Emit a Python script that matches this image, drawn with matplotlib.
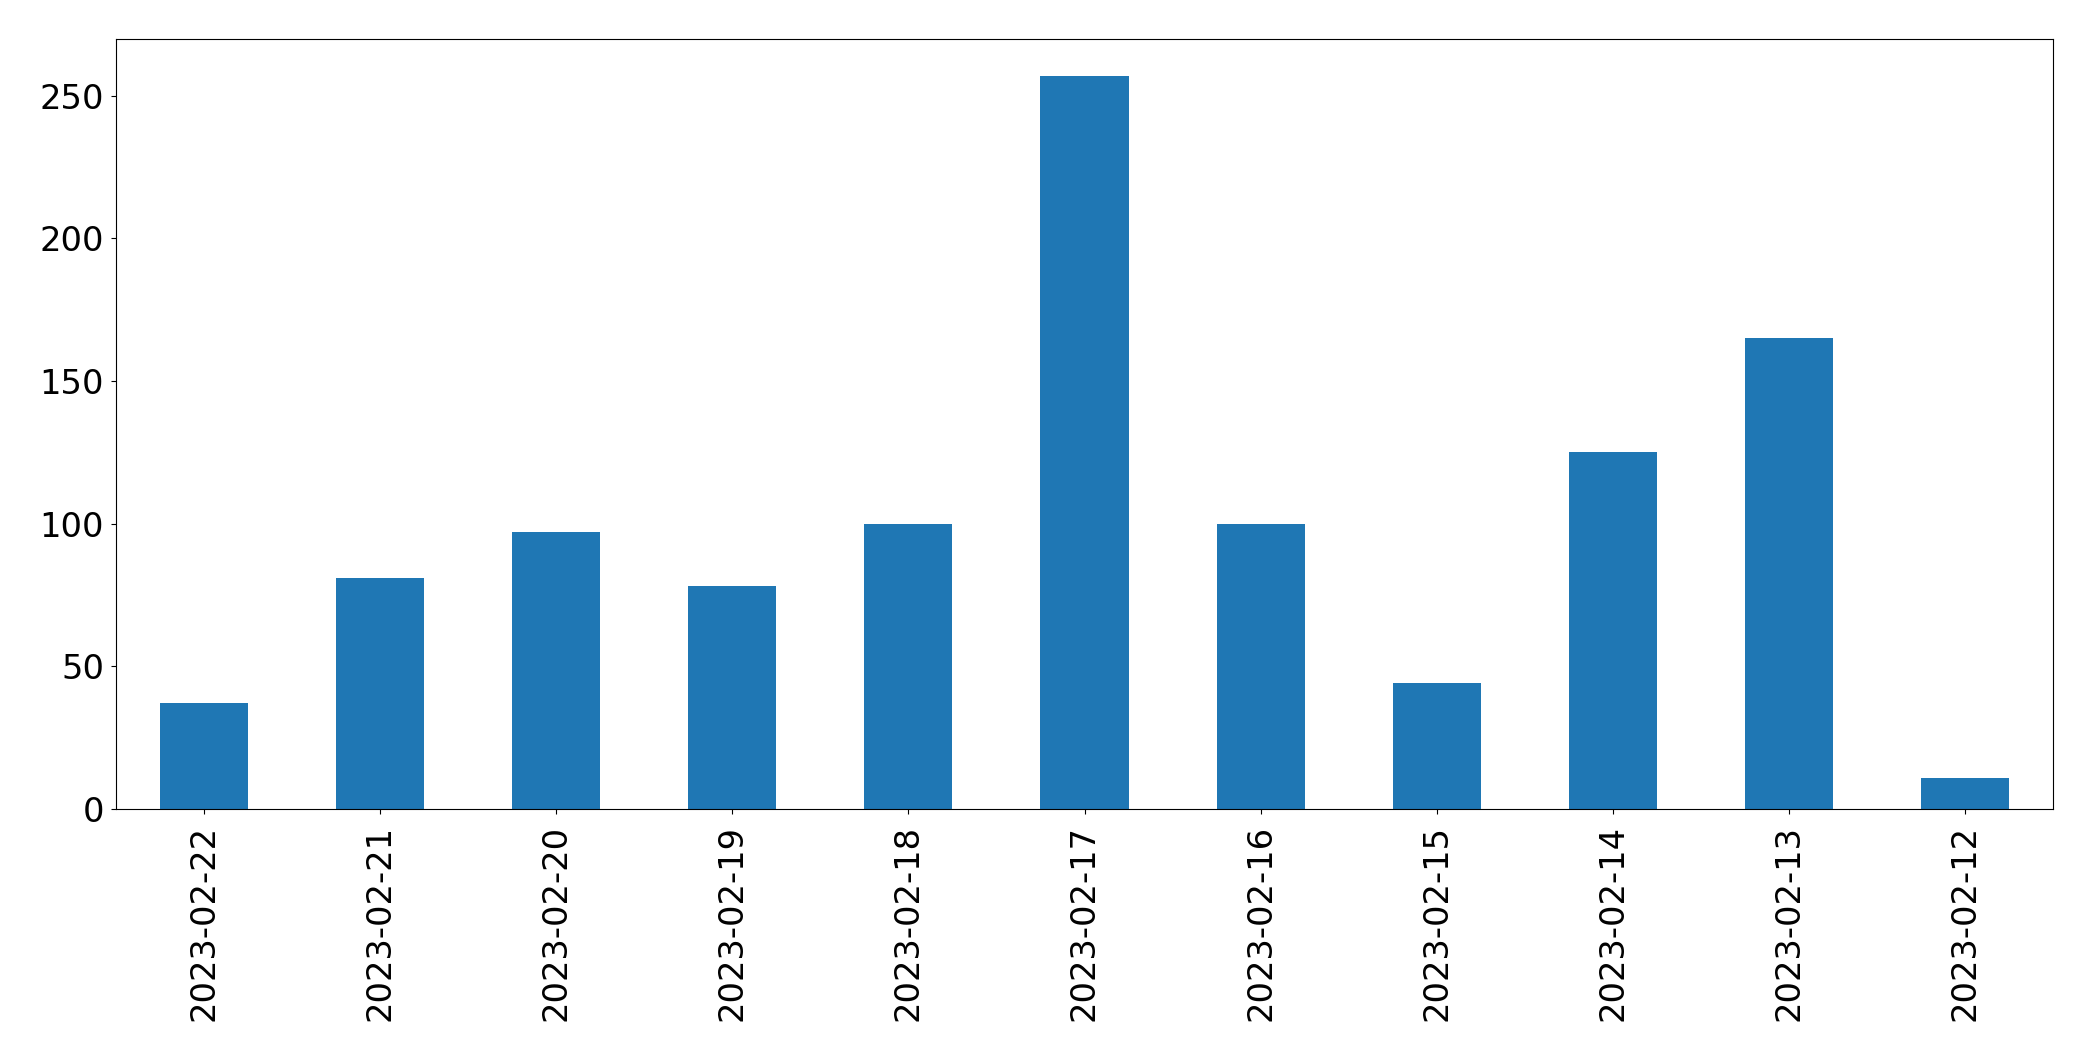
import matplotlib
matplotlib.use("Agg")
import matplotlib.pyplot as plt
import numpy as np

dates = ["2023-02-22", "2023-02-21", "2023-02-20", "2023-02-19", "2023-02-18",
         "2023-02-17", "2023-02-16", "2023-02-15", "2023-02-14", "2023-02-13",
         "2023-02-12"]
counts = [37, 81, 97, 78, 100, 257, 100, 44, 125, 165, 11]

W, H = 2093, 1061
fig = plt.figure(figsize=(W / 100, H / 100), dpi=100)
ax = fig.add_axes([116 / W, 1 - 809 / H, (2053 - 116) / W, (809 - 39) / H])

x = np.arange(len(dates))
ax.bar(x, counts, width=0.5, color="#1f77b4")
ax.set_xlim(-0.5, len(dates) - 0.5)
ax.set_ylim(0, max(counts) * 1.05)
ax.set_xticks(x)
ax.set_xticklabels(dates, rotation=90)
ax.set_yticks([0, 50, 100, 150, 200, 250])
ax.tick_params(axis="both", labelsize=24.2)
ax.tick_params(axis="x", pad=7.8)
ax.tick_params(axis="y", pad=5)

fig.savefig("out.png", dpi=100)
